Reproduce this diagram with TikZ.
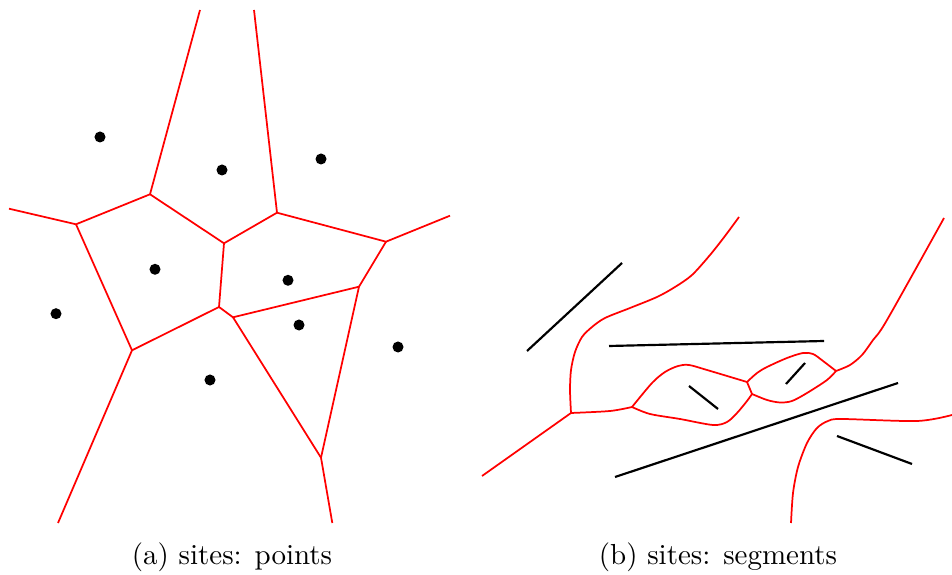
\documentclass[tikz,border=0pt]{standalone}
\begin{document}
\begin{tikzpicture}[x=0.345pt,y=-0.345pt,
  vor/.style={red, line width=0.6pt, line join=round},
  seg/.style={black, line width=0.75pt},
  site/.style={circle, fill=black, draw=none, inner sep=0pt, minimum size=3.8pt},
  captext/.style={inner sep=0pt}]
\useasboundingbox (0,0) rectangle (952,575);
% ---------- (a) points ----------
\coordinate (tl) at (200,10);
\coordinate (tr) at (254,10);
\coordinate (le) at (9,208.7);
\coordinate (re) at (450,215.7);
\coordinate (bl) at (58,523);
\coordinate (br) at (332.3,523);
\coordinate (A) at (150,194.3);
\coordinate (B) at (277,212.7);
\coordinate (C) at (76,224.3);
\coordinate (D) at (224,243.3);
\coordinate (E) at (386,241.7);
\coordinate (F) at (359,286.7);
\coordinate (G) at (219,307);
\coordinate (H) at (233,317.3);
\coordinate (I) at (132,350.3);
\coordinate (J) at (321,457.7);
\draw[vor] (tl) -- (A) -- (C) -- (le);
\draw[vor] (C) -- (I) -- (bl);
\draw[vor] (A) -- (D) -- (B) -- (tr);
\draw[vor] (B) -- (E) -- (re);
\draw[vor] (E) -- (F) -- (J) -- (br);
\draw[vor] (D) -- (G) -- (I);
\draw[vor] (G) -- (H) -- (F);
\draw[vor] (H) -- (J);
\node[site] (p1) at (100,137) {};
\node[site] (p2) at (222,170) {};
\node[site] (p3) at (321,159) {};
\node[site] (p4) at (155,269.3) {};
\node[site] (p5) at (288,280.3) {};
\node[site] (p6) at (56,313.7) {};
\node[site] (p7) at (299,325) {};
\node[site] (p8) at (398,347) {};
\node[site] (p9) at (210,380) {};
\node[captext] (capa) at (232,557) {(a) sites: points};
% ---------- (b) segments ----------
\coordinate (s1a) at (527,351); \coordinate (s1b) at (622,263);
\coordinate (s2a) at (609,346); \coordinate (s2b) at (824,341);
\coordinate (s3a) at (689,386); \coordinate (s3b) at (718,409);
\coordinate (s4a) at (786,384); \coordinate (s4b) at (805,363);
\coordinate (s5a) at (615,477); \coordinate (s5b) at (898,383);
\coordinate (s6a) at (837,436); \coordinate (s6b) at (912,464);
\draw[seg] (s1a) -- (s1b);
\draw[seg] (s2a) -- (s2b);
\draw[seg] (s3a) -- (s3b);
\draw[seg] (s4a) -- (s4b);
\draw[seg] (s5a) -- (s5b);
\draw[seg] (s6a) -- (s6b);
\coordinate (v1) at (571,413);
\coordinate (v2) at (632,407);
\coordinate (v3) at (747,382);
\coordinate (v4) at (752,394);
\coordinate (v5) at (836,371);
\coordinate (e1) at (739,217);
\coordinate (e2) at (482,476);
\coordinate (e3) at (944,218);
\coordinate (e4) at (791,523);
\coordinate (e5) at (952,415);
\draw[vor] plot[smooth, tension=0.5] coordinates {(e1) (725,236) (710,255) (692,275) (675,287) (657,297) (630,308) (605,318) (592,327) (582,337) (575,352) (571,370) (570,390) (v1)};
\draw[vor] (v1) -- (e2);
\draw[vor] plot[smooth, tension=0.5] coordinates {(v1) (610,411) (v2)};
\draw[vor] plot[smooth, tension=0.5] coordinates {(v2) (652,383) (665,372) (678,366) (689,365) (707,370) (v3)};
\draw[vor] plot[smooth, tension=0.5] coordinates {(v2) (650,414) (680,419) (713,425) (727,422) (737,413) (747,401) (v4)};
\draw[vor] (v3) -- (v4);
\draw[vor] plot[smooth, tension=0.5] coordinates {(v3) (757,373) (767,367) (787,358) (803,353) (813,354) (823,361) (v5)};
\draw[vor] plot[smooth, tension=0.5] coordinates {(v4) (767,400) (780,402.5) (792,401) (807,393) (827,380) (v5)};
\draw[vor] plot[smooth, tension=0.5] coordinates {(v5) (850,365) (862,355) (873,340) (887,320) (e3)};
\draw[vor] plot[smooth, tension=0.5] coordinates {(e4) (793,493) (798,467) (807,443) (817,428) (828,421) (842,419) (917,421) (e5)};
\node[captext] (capb) at (718,557) {(b) sites: segments};
\end{tikzpicture}
\end{document}
